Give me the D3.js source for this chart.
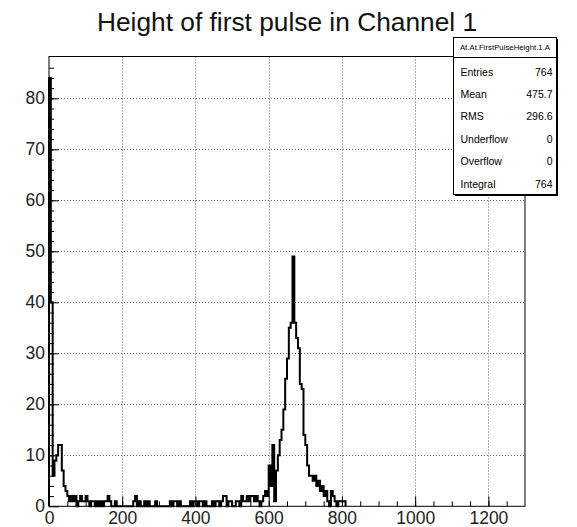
<!DOCTYPE html>
<html>
<head>
<meta charset="utf-8">
<script src="https://cdn.jsdelivr.net/npm/d3@7"></script>
<style>
  body { margin: 0; background: #fff; }
  svg { display: block; font-family: "Liberation Sans", Arial, sans-serif; }
</style>
</head>
<body>
<script>
// histogram: 5-unit bins starting at 0 (bins past the last one are empty)
var binWidth = 5;
var lowCounts = [84, 40, 6, 9, 10, 12, 12, 7, 4, 3, 2, 1, 2];          // 0 - 65
var midCounts = [                                                      // 65 - 600
    1, 2, 0, 1, 2, 1, 1, 2, 1, 0, 1, 1, 0, 1, 0,
    1, 0, 1, 1, 2, 1, 0, 0, 1, 0, 0, 0, 0, 0, 0, 0, 0, 0,
    1, 2, 0, 1, 0, 0, 1, 0, 1, 0, 0, 0, 1, 0, 0, 0, 0, 0, 0, 0,
    1, 0, 1, 1, 0, 1, 0, 0, 0, 0, 0,
    1, 0, 1, 1, 0, 1, 1, 0, 1, 0, 0, 0,
    1, 0, 1, 1, 0, 1, 2, 2, 0, 1, 1,
    0, 0, 1, 1, 0, 2, 1, 1, 2, 1, 2, 2, 1, 2, 1,
    0, 1, 2, 3, 2
];
var peakCounts = [                                                     // 600 - 810
    8, 4, 12, 1, 7, 10, 13, 15, 19, 25,
    29, 35, 36, 49, 36, 33, 31, 24, 23, 14,
    12, 8, 6, 6, 5, 6, 4, 5, 3, 4,
    2, 3, 1, 0, 3, 2, 1, 0, 1, 1,
    1, 1
];
var counts = lowCounts.concat(midCounts, peakCounts);

var xTicks = [0, 200, 400, 600, 800, 1000, 1200];
var yTicks = [0, 10, 20, 30, 40, 50, 60, 70, 80];

var title = 'Height of first pulse in Channel 1';
var statsName = 'At.At.FirstPulseHeight.1.A';
var statLabels = ['Entries', 'Mean', 'RMS', 'Underflow', 'Overflow', 'Integral'];
var statValues = ['764', '475.7', '296.6', '0', '0', '764'];

(function() {
    var w = 577,
        h = 527;
    var left = 49, right = 525, top = 56.5, bottom = 506.3;

    var svg = d3.select('body')
        .append('svg')
        .attr('width', w)
        .attr('height', h);

    var x = d3.scaleLinear().domain([0, 1300]).range([left, right]);
    var y = d3.scaleLinear().domain([0, 88.2]).range([bottom, top]);

    // dotted grid at the major ticks
    var grid = svg.append('g')
        .attr('stroke', '#666')
        .attr('stroke-width', 1)
        .attr('stroke-dasharray', '1,2');
    grid.selectAll('line.gx')
        .data(xTicks.filter(function(d) { return d > 0; }))
        .enter().append('line')
        .attr('x1', function(d) { return Math.round(x(d)) + 0.5; })
        .attr('x2', function(d) { return Math.round(x(d)) + 0.5; })
        .attr('y1', top)
        .attr('y2', bottom);
    grid.selectAll('line.gy')
        .data(yTicks.filter(function(d) { return d > 0; }))
        .enter().append('line')
        .attr('y1', function(d) { return Math.round(y(d)) + 0.5; })
        .attr('y2', function(d) { return Math.round(y(d)) + 0.5; })
        .attr('x1', left)
        .attr('x2', right);

    // histogram outline
    var pts = [[0, 0]];
    counts.forEach(function(c, i) {
        pts.push([i * binWidth, c]);
        pts.push([(i + 1) * binWidth, c]);
    });
    pts.push([counts.length * binWidth, 0]);
    var line = d3.line()
        .x(function(d) { return x(d[0]); })
        .y(function(d) { return y(d[1]); });
    svg.append('path')
        .attr('d', line(pts))
        .attr('fill', 'none')
        .attr('stroke', '#000')
        .attr('stroke-width', 2)
        .attr('stroke-linejoin', 'miter');

    // axes, ticks pointing inwards like ROOT
    var xAxis = svg.append('g')
        .attr('transform', 'translate(0,' + bottom + ')')
        .call(d3.axisBottom(x).tickValues(xTicks).tickSize(-10).tickPadding(5).tickFormat(d3.format('d')));
    svg.append('g')
        .attr('transform', 'translate(0,' + bottom + ')')
        .call(d3.axisBottom(x).tickValues(d3.range(50, 1300, 50)).tickSize(-5).tickFormat(''));
    var yAxis = svg.append('g')
        .attr('transform', 'translate(' + left + ',0)')
        .call(d3.axisLeft(y).tickValues(yTicks).tickSize(-10).tickPadding(4));
    svg.append('g')
        .attr('transform', 'translate(' + left + ',0)')
        .call(d3.axisLeft(y).tickValues(d3.range(2, 88, 2)).tickSize(-5).tickFormat(''));
    svg.selectAll('.domain').remove();
    svg.selectAll('.tick line').attr('stroke', '#000');
    [xAxis, yAxis].forEach(function(a) {
        a.attr('font-family', '"Liberation Sans", Arial, sans-serif')
            .attr('font-size', 17.5)
            .selectAll('text').attr('fill', '#222');
    });

    // frame
    svg.append('rect')
        .attr('x', left)
        .attr('y', top)
        .attr('width', right - left)
        .attr('height', bottom - top)
        .attr('fill', 'none')
        .attr('stroke', '#000')
        .attr('stroke-width', 1);

    // title
    svg.append('text')
        .attr('x', (left + right) / 2)
        .attr('y', 31)
        .attr('text-anchor', 'middle')
        .attr('font-size', 26.3)
        .attr('fill', '#111')
        .text(title);

    // stats box with shadow
    var bx = 453.5, by = 37.5, bw = 103, bh = 157;
    var stats = svg.append('g');
    stats.append('rect')
        .attr('x', bx + 1.5).attr('y', by + 1.5)
        .attr('width', bw).attr('height', bh)
        .attr('fill', '#000');
    stats.append('rect')
        .attr('x', bx).attr('y', by)
        .attr('width', bw).attr('height', bh)
        .attr('fill', '#fff')
        .attr('stroke', '#000');
    stats.append('line')
        .attr('x1', bx).attr('x2', bx + bw)
        .attr('y1', 57.5).attr('y2', 57.5)
        .attr('stroke', '#000');
    stats.append('text')
        .attr('x', bx + bw / 2)
        .attr('y', 50)
        .attr('text-anchor', 'middle')
        .attr('font-size', 7.8)
        .text(statsName);
    var rows = stats.selectAll('g.row')
        .data(statLabels)
        .enter().append('g')
        .attr('transform', function(d, i) { return 'translate(0,' + (75.5 + i * 22.4) + ')'; });
    rows.append('text')
        .attr('x', bx + 7)
        .attr('font-size', 10.5)
        .text(function(d) { return d; });
    rows.append('text')
        .attr('x', bx + bw - 4)
        .attr('text-anchor', 'end')
        .attr('font-size', 10.5)
        .text(function(d, i) { return statValues[i]; });
})();
</script>
</body>
</html>
